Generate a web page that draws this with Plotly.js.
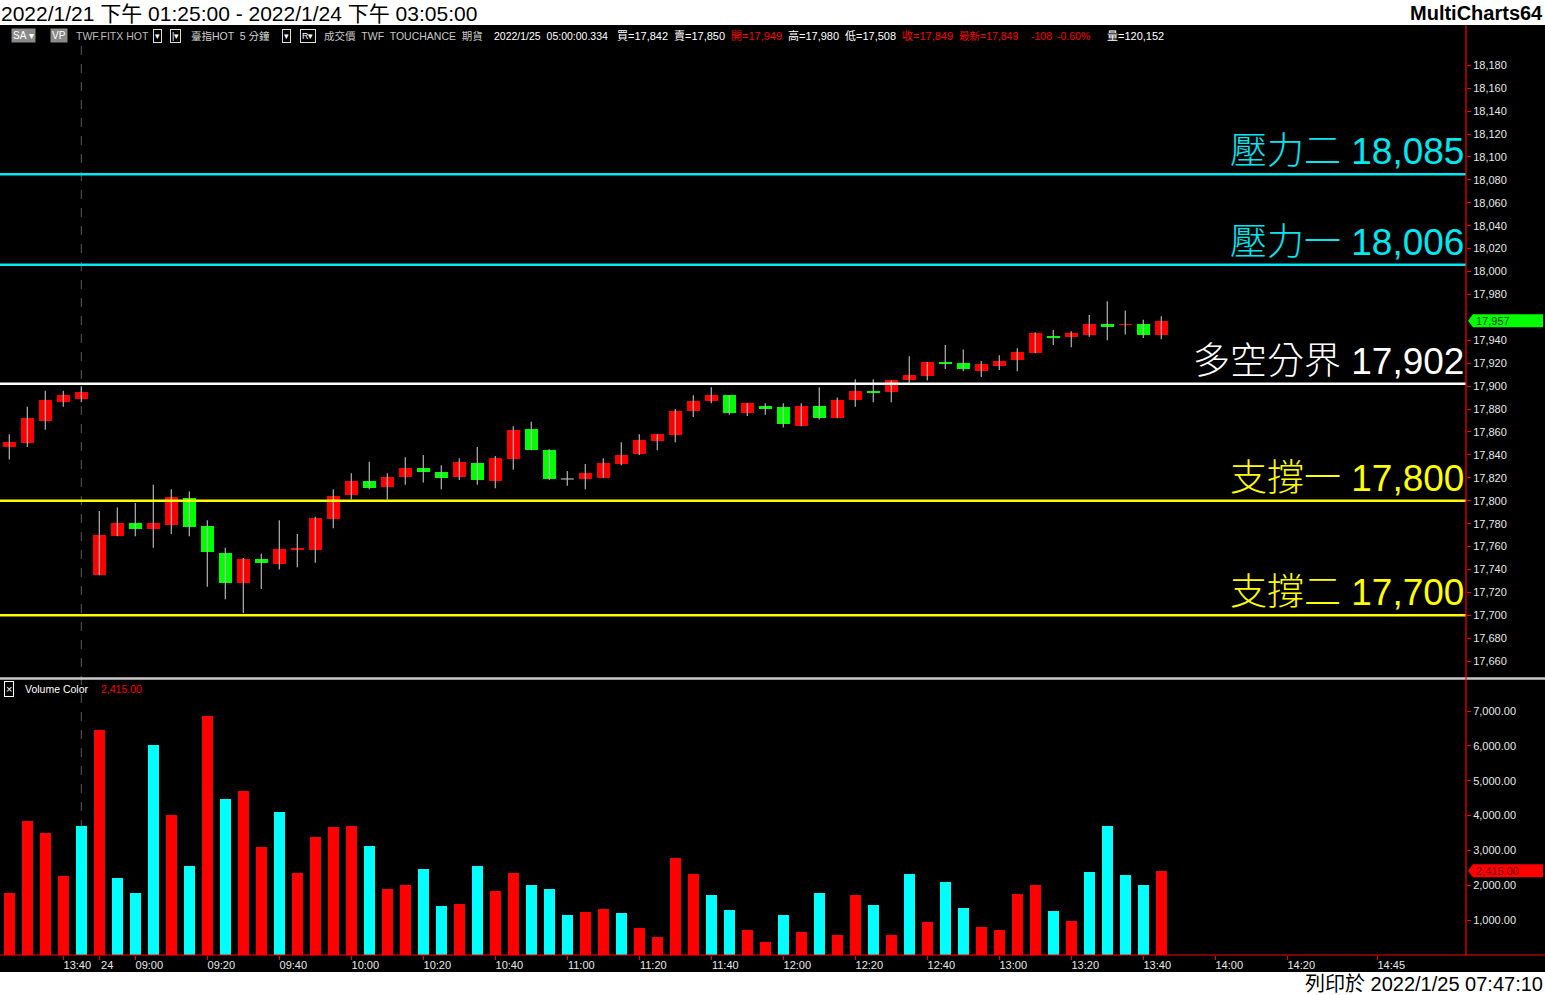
<!DOCTYPE html>
<html>
<head>
<meta charset="utf-8">
<script src="https://cdn.plot.ly/plotly-3.0.1.min.js"></script>
<style>
html,body{margin:0;padding:0;background:#000;}
#chart{width:1545px;height:995px;}
</style>
</head>
<body>
<div id="chart"></div>
<script>
// ---------- DATA ----------
const times = ['13:25','13:30','13:35','13:40','13:45',
 '08:50','08:55','09:00','09:05','09:10','09:15','09:20','09:25','09:30','09:35','09:40','09:45','09:50','09:55','10:00',
 '10:05','10:10','10:15','10:20','10:25','10:30','10:35','10:40','10:45','10:50','10:55','11:00','11:05','11:10','11:15',
 '11:20','11:25','11:30','11:35','11:40','11:45','11:50','11:55','12:00','12:05','12:10','12:15','12:20','12:25','12:30',
 '12:35','12:40','12:45','12:50','12:55','13:00','13:05','13:10','13:15','13:20','13:25','13:30','13:35','13:40','13:45'];

const openP  = [17847,17850,17870,17886,17889, 17735,17769,17781,17775,17779, 17802,17778,17754,17728,17749,
 17745,17757,17757,17784,17805, 17817,17812,17821,17829,17825, 17821,17833,17817,17836,17863,
 17844,17819,17819,17820,17832, 17841,17852,17857,17878,17887, 17892,17877,17883,17882,17865,
 17883,17872,17888,17896,17895, 17905,17909,17921,17920,17913, 17918,17923,17929,17944,17943,
 17945,17954,17953,17954,17945];
const highP  = [17858,17882,17896,17896,17900, 17791,17794,17798,17814,17810, 17808,17783,17759,17750,17754,
 17783,17771,17786,17810,17824, 17834,17824,17838,17840,17831, 17837,17847,17839,17865,17869,
 17845,17826,17832,17837,17851, 17858,17858,17880,17892,17899, 17892,17885,17885,17885,17885,
 17899,17890,17906,17906,17905, 17926,17921,17936,17932,17922, 17927,17933,17947,17949,17948,
 17962,17974,17966,17958,17961];
const lowP   = [17836,17847,17862,17882,17886, 17735,17769,17769,17759,17771, 17769,17725,17714,17702,17723,
 17740,17742,17746,17776,17801, 17810,17801,17814,17816,17810, 17818,17814,17811,17827,17844,
 17818,17813,17810,17820,17831, 17840,17844,17851,17873,17885, 17875,17874,17875,17864,17865,
 17871,17872,17882,17886,17886, 17903,17905,17915,17913,17908, 17914,17913,17929,17936,17934,
 17943,17940,17945,17942,17941];
const closeP = [17851,17872,17888,17892,17895, 17770,17781,17775,17781,17803, 17777,17755,17728,17749,17746,
 17758,17759,17785,17804,17817, 17811,17821,17829,17825,17820, 17834,17818,17837,17862,17844,
 17819,17819,17824,17833,17840, 17853,17858,17878,17887,17892, 17877,17885,17880,17867,17883,
 17872,17888,17896,17894,17905, 17910,17921,17919,17915,17919, 17922,17930,17946,17942,17946,
 17954,17952,17954,17945,17957];

const volume = [1780,3845,3500,2267,3702,6456,2209,1779,6026,4017,2554,6858,4476,4706,3099,4103,2353,3386,3673,3702,
 3128,1894,2009,2468,1406,1463,2554,1836,2353,2009,1894,1148,1234,1320,1205,775,517,2783,2324,1722,
 1291,717,373,1148,660,1779,574,1722,1435,574,2324,947,2095,1349,803,717,1750,2009,1263,976,
 2382,3702,2296,2009,2415];
const volDir = ['up','up','up','up','dn','up','dn','dn','dn','up','dn','up','dn','up','up','dn','up','up','up','up',
 'dn','up','up','dn','dn','up','dn','up','up','dn','dn','dn','up','up','dn','up','up','up','up','dn',
 'dn','up','up','dn','up','dn','up','up','dn','up','dn','up','dn','dn','up','up','up','up','dn','up',
 'dn','dn','dn','dn','up'];

const tickIdx  = [3,5,7,11,15,19,23,27,31,35,39,43,47,51,55,59,63,67,71,76];
const tickText = ['13:40','24\u00a0\u00a0\u00a0\u00a0','09:00','09:20','09:40','10:00','10:20','10:40','11:00','11:20','11:40',
 '12:00','12:20','12:40','13:00','13:20','13:40','14:00','14:20','14:45'];

// 17,960 sits under the last-price marker in the reference, so it is left out
const priceTicks = [17660,17680,17700,17720,17740,17760,17780,17800,17820,17840,17860,17880,17900,17920,17940,17980,
 18000,18020,18040,18060,18080,18100,18120,18140,18160,18180];
const volTicks = [1000,2000,3000,4000,5000,6000,7000];

const levelNames  = ['壓力二','壓力一','多空分界','支撐一','支撐二'];
const levelValues = [18085,18006,17902,17800,17700];
const levelColors = ['#00e8f2','#00e8f2','#ffffff','#ffff00','#ffff00'];

const sessionBreakIdx = 4;
const lastClose = 17957;
const lastVolume = 2415;

// ---------- HELPERS ----------
const W = 1545, H = 995;
const px = x => x / W;
const py = y => 1 - y / H;
const FONT = 'Liberation Sans, Arial, Noto Sans CJK TC, sans-serif';
const idx = times.map((_, i) => i);

// ---------- TRACES ----------
const wx = [], wy = [];
idx.forEach(i => {
  wx.push(i, i, null); wy.push(lowP[i], highP[i], null);
  if (openP[i] === closeP[i]) { wx.push(i - 0.36, i + 0.36, null); wy.push(openP[i], openP[i], null); }
});
const wicks = { type:'scatter', mode:'lines', x:wx, y:wy, xaxis:'x', yaxis:'y',
  line:{color:'#b4b4b4', width:1.2}, hoverinfo:'skip', connectgaps:false };

const bodies = { type:'bar', x:idx, xaxis:'x', yaxis:'y',
  y: idx.map(i => Math.abs(closeP[i] - openP[i])),
  base: idx.map(i => Math.min(openP[i], closeP[i])),
  width: 0.72,
  marker:{ color: idx.map(i => closeP[i] > openP[i] ? '#ff0000' : (closeP[i] < openP[i] ? '#00ff00' : '#b4b4b4')), line:{width:0} },
  hoverinfo:'skip' };

const vols = { type:'bar', x:idx, y:volume, xaxis:'x', yaxis:'y2', width:0.62,
  marker:{ color: volDir.map(d => d === 'up' ? '#ff0000' : '#00ffff'), line:{width:0} },
  hoverinfo:'skip' };

// ---------- SHAPES ----------
const xRight = px(1466);
const shapes = [];
shapes.push({ type:'line', xref:'x', yref:'paper', x0:sessionBreakIdx, x1:sessionBreakIdx, y0:py(955), y1:py(45),
  layer:'below', line:{color:'#5a5a5a', width:1, dash:'dash'} });
levelValues.forEach((v, k) => shapes.push({ type:'line', xref:'paper', yref:'y', x0:0, x1:xRight, y0:v, y1:v,
  line:{color:levelColors[k], width:2.5} }));
shapes.push({ type:'line', xref:'paper', yref:'paper', x0:0, x1:1, y0:py(678.5), y1:py(678.5), line:{color:'#c8c8c8', width:2.5} });
shapes.push({ type:'line', xref:'paper', yref:'paper', x0:0, x1:1, y0:py(955), y1:py(955), line:{color:'#ff0000', width:1.2} });
shapes.push({ type:'line', xref:'paper', yref:'paper', x0:xRight, x1:xRight, y0:py(955), y1:py(25), line:{color:'#ff0000', width:1.2} });
shapes.push({ type:'rect', xref:'paper', yref:'paper', x0:0, x1:1, y0:py(25), y1:1, fillcolor:'#ffffff', line:{width:0} });
shapes.push({ type:'rect', xref:'paper', yref:'paper', x0:0, x1:1, y0:0, y1:py(972), fillcolor:'#ffffff', line:{width:0} });
// last-value markers
const pH = 6.5 * (18213.4 - 17646.2) / 650;
shapes.push({ type:'path', xref:'paper', yref:'y', fillcolor:'#00ff00', line:{width:0},
  path:`M ${px(1468)} ${lastClose} L ${px(1473)} ${lastClose + pH} L ${px(1543)} ${lastClose + pH} L ${px(1543)} ${lastClose - pH} L ${px(1473)} ${lastClose - pH} Z` });
const vH = 6.5 * 7862 / 274;
shapes.push({ type:'path', xref:'paper', yref:'y2', fillcolor:'#ff0000', line:{width:0},
  path:`M ${px(1468)} ${lastVolume} L ${px(1473)} ${lastVolume + vH} L ${px(1543)} ${lastVolume + vH} L ${px(1543)} ${lastVolume - vH} L ${px(1473)} ${lastVolume - vH} Z` });

// ---------- ANNOTATIONS ----------
const ann = [];
const A = (text, x, y, opts = {}) => ann.push(Object.assign({ text, x:px(x), y:py(y), xref:'paper', yref:'paper',
  xanchor:'left', yanchor:'middle', showarrow:false, borderpad:0,
  font:{family:FONT, size:11, color:'#ffffff'} }, opts));

A('2022/1/21 下午 01:25:00 - 2022/1/24 下午 03:05:00', 0, 13, {font:{family:FONT, size:21, color:'#000'}});
A('<b>MultiCharts64</b>', 1544, 13, {xanchor:'right', font:{family:FONT, size:20, color:'#000'}});
A('列印於 2022/1/25 07:47:10', 1544, 984, {xanchor:'right', font:{family:FONT, size:20, color:'#000'}});

// header row
const hy = 36;
A('SA ▾', 11, hy, {bgcolor:'#8a8a8a', borderpad:1, font:{family:FONT, size:10, color:'#fff'}});
A('VP', 50, hy, {bgcolor:'#8a8a8a', borderpad:1, font:{family:FONT, size:10, color:'#fff'}});
A('TWF.FITX HOT', 75, hy, {font:{family:FONT, size:10.5, color:'#bdbdbd'}});
A('▾', 153, hy, {bordercolor:'#ddd', borderwidth:1, borderpad:1, font:{family:FONT, size:9, color:'#fff'}});
A('|▾', 170, hy, {bordercolor:'#ddd', borderwidth:1, borderpad:1, font:{family:FONT, size:9, color:'#fff'}});
A('臺指HOT  5 分鐘', 190, hy, {font:{family:FONT, size:10.5, color:'#d0d0d0'}});
A('▾', 282, hy, {bordercolor:'#ddd', borderwidth:1, borderpad:1, font:{family:FONT, size:9, color:'#fff'}});
A('R▾', 300, hy, {bordercolor:'#ddd', borderwidth:1, borderpad:1, font:{family:FONT, size:9, color:'#fff'}});
A('成交價  TWF  TOUCHANCE  期貨', 323, hy, {font:{family:FONT, size:10.5, color:'#c8c8c8'}});
A('2022/1/25  05:00:00.334', 493, hy, {font:{family:FONT, size:10.5, color:'#fff'}});
A('買=17,842', 616, hy);
A('賣=17,850', 673, hy);
A('開=17,949', 730, hy, {font:{family:FONT, size:11, color:'#ff0000'}});
A('高=17,980', 787, hy);
A('低=17,508', 844, hy);
A('收=17,849', 901, hy, {font:{family:FONT, size:11, color:'#ff0000'}});
A('最新=17,849', 958, hy, {font:{family:FONT, size:10.5, color:'#ff0000'}});
A('-108', 1030, hy, {font:{family:FONT, size:10.5, color:'#ff0000'}});
A('-0.60%', 1056, hy, {font:{family:FONT, size:10.5, color:'#ff0000'}});
A('量=120,152', 1106, hy);

// volume pane header
A('×', 4, 689, {bordercolor:'#fff', borderwidth:1, borderpad:1, font:{family:FONT, size:11, color:'#fff'}});
A('Volume Color', 24, 689, {font:{family:FONT, size:10.5, color:'#fff'}});
A('2,415.00', 100, 689, {font:{family:FONT, size:10.5, color:'#ff0000'}});

// level labels
levelValues.forEach((v, k) => ann.push({ text: levelNames[k] + ' ' + v.toLocaleString('en-US'),
  x:px(1465), xref:'paper', y:v, yref:'y', xanchor:'right', yanchor:'bottom', yshift:1,
  showarrow:false, borderpad:0, font:{family:FONT, size:37, color:levelColors[k], weight:300} }));

// last value texts
ann.push({ text: lastClose.toLocaleString('en-US'), x:px(1475), xref:'paper', y:lastClose, yref:'y',
  xanchor:'left', yanchor:'middle', showarrow:false, borderpad:0, font:{family:FONT, size:11, color:'#004000'} });
ann.push({ text: lastVolume.toLocaleString('en-US', {minimumFractionDigits:2}), x:px(1475), xref:'paper', y:lastVolume, yref:'y2',
  xanchor:'left', yanchor:'middle', showarrow:false, borderpad:0, font:{family:FONT, size:11, color:'#6a0000'} });

// ---------- LAYOUT ----------
const axisFont = {family:FONT, size:11, color:'#e8e8e8'};
const layout = {
  width:W, height:H, margin:{l:0, r:0, t:0, b:0},
  paper_bgcolor:'#000000', plot_bgcolor:'#000000', showlegend:false, hovermode:false, bargap:0,
  xaxis:{ domain:[0, xRight], range:[-0.517, 80.93], anchor:'y2', tickmode:'array', tickvals:tickIdx, ticktext:tickText,
    tickfont:axisFont, ticks:'outside', ticklen:4, tickcolor:'#ff0000', showgrid:false, zeroline:false, showline:false,
    ticklabelshift:14, ticklabelstandoff:-4, fixedrange:true },
  yaxis:{ domain:[py(677), py(27)], range:[17646.2, 18213.4], side:'right', anchor:'x', tickmode:'array', tickvals:priceTicks,
    tickformat:',d', tickfont:axisFont, ticks:'outside', ticklen:4, tickcolor:'#ff0000', showgrid:false, zeroline:false,
    showline:false, fixedrange:true },
  yaxis2:{ domain:[py(955), py(681)], range:[0, 7862], side:'right', anchor:'x', tickmode:'array', tickvals:volTicks,
    tickformat:',.2f', tickfont:axisFont, ticks:'outside', ticklen:4, tickcolor:'#ff0000', showgrid:false, zeroline:false,
    showline:false, fixedrange:true },
  shapes, annotations:ann
};

Plotly.newPlot('chart', [wicks, bodies, vols], layout, {staticPlot:true, displayModeBar:false});
</script>
</body>
</html>
